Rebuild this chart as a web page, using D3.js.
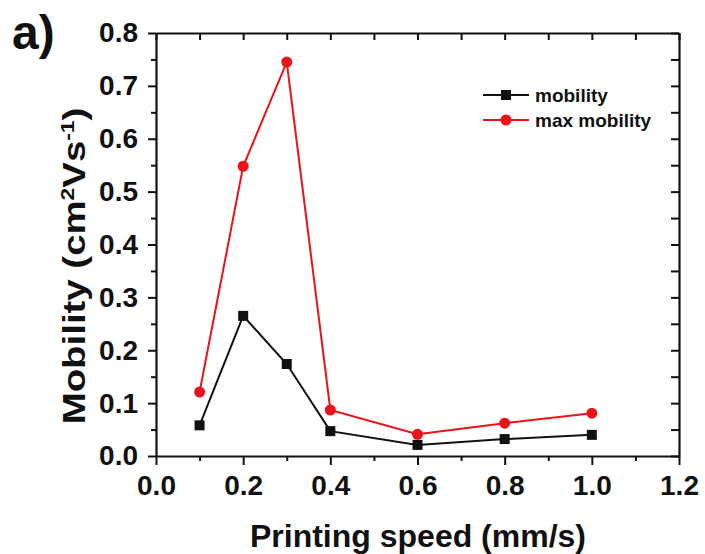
<!DOCTYPE html>
<html>
<head>
<meta charset="utf-8">
<script src="https://cdn.jsdelivr.net/npm/d3@7"></script>
<style>
  html, body { margin: 0; padding: 0; background: #fff; }
  svg text { font-family: "Liberation Sans", Arial, sans-serif; font-weight: bold; fill: #111; }
</style>
</head>
<body>
<svg id="chart" width="705" height="554"></svg>
<script>
// Printing speed (mm/s)
const speeds = [0.1, 0.2, 0.3, 0.4, 0.6, 0.8, 1.0];
// Average mobility (cm^2/Vs)
const mobility = [0.058, 0.265, 0.174, 0.047, 0.021, 0.032, 0.040];
// Maximum mobility (cm^2/Vs)
const maxMobility = [0.121, 0.548, 0.745, 0.087, 0.041, 0.062, 0.081];
const xTicks = [0.0, 0.2, 0.4, 0.6, 0.8, 1.0, 1.2];
const yTicks = [0.0, 0.1, 0.2, 0.3, 0.4, 0.5, 0.6, 0.7, 0.8];

const svg = d3.select("#chart");
const plotL = 156, plotR = 679, plotT = 33, plotB = 456;

const x = d3.scaleLinear().domain([0, 1.2]).range([plotL, plotR]);
const y = d3.scaleLinear().domain([0, 0.8]).range([plotB, plotT]);

const axisColor = "#111";
const fmt = d3.format(".1f");

// Bottom axis: major ticks labelled, minor ticks between
const xMinor = d3.range(0.1, 1.2, 0.2);
svg.append("g").attr("transform", `translate(0,${plotB})`)
  .call(d3.axisBottom(x).tickValues(xTicks).tickFormat(fmt).tickSize(9).tickPadding(10).tickSizeOuter(0));
svg.append("g").attr("transform", `translate(0,${plotB})`)
  .call(d3.axisBottom(x).tickValues(xMinor).tickFormat("").tickSize(5).tickSizeOuter(0))
  .call(g => g.select(".domain").remove());

// Left axis
const yMinor = d3.range(0.05, 0.8, 0.1);
svg.append("g").attr("transform", `translate(${plotL},0)`)
  .call(d3.axisLeft(y).tickValues(yTicks).tickFormat(fmt).tickSize(8).tickPadding(10).tickSizeOuter(0));
svg.append("g").attr("transform", `translate(${plotL},0)`)
  .call(d3.axisLeft(y).tickValues(yMinor).tickFormat("").tickSize(5).tickSizeOuter(0))
  .call(g => g.select(".domain").remove());

// Top axis: inward ticks, no labels
svg.append("g").attr("transform", `translate(0,${plotT})`)
  .call(d3.axisTop(x).tickValues(d3.range(0, 1.21, 0.1)).tickFormat("").tickSize(-7).tickSizeOuter(0));

// Right axis: inward ticks, no labels
svg.append("g").attr("transform", `translate(${plotR},0)`)
  .call(d3.axisRight(y).tickValues(d3.range(0, 0.81, 0.05)).tickFormat("").tickSize(-8).tickSizeOuter(0));

svg.selectAll(".domain").attr("stroke", axisColor).attr("stroke-width", 2.2);
svg.selectAll(".tick line").attr("stroke", axisColor).attr("stroke-width", 2);
svg.selectAll(".tick text").attr("font-size", 28).attr("font-family", "Liberation Sans, Arial, sans-serif")
  .attr("font-weight", "bold").attr("fill", "#111");

// Axis titles
svg.append("text").attr("x", 418).attr("y", 547)
  .attr("text-anchor", "middle").attr("font-size", 32).text("Printing speed (mm/s)");

const yTitle = svg.append("text")
  .attr("transform", `translate(85,266) rotate(-90) scale(1.2,1)`)
  .attr("text-anchor", "middle").attr("font-size", 32);
yTitle.append("tspan").text("Mobility (cm");
yTitle.append("tspan").attr("font-size", 19).attr("dy", -11).text("2");
yTitle.append("tspan").attr("dy", 11).text("Vs");
yTitle.append("tspan").attr("font-size", 19).attr("dy", -11).text("-1");
yTitle.append("tspan").attr("dy", 11).text(")");

// Panel label
svg.append("text").attr("x", 12).attr("y", 49).attr("font-size", 48).text("a)");

// Series
const series = [
  { name: "mobility", values: mobility, color: "#111", shape: "square" },
  { name: "max mobility", values: maxMobility, color: "#e8141a", shape: "circle" }
];

const line = d3.line().x(d => x(d[0])).y(d => y(d[1]));

series.forEach(s => {
  const pts = speeds.map((v, i) => [v, s.values[i]]);
  svg.append("path").datum(pts).attr("d", line)
    .attr("fill", "none").attr("stroke", s.color).attr("stroke-width", 2);
  if (s.shape === "square") {
    svg.selectAll(null).data(pts).enter().append("rect")
      .attr("x", d => x(d[0]) - 5).attr("y", d => y(d[1]) - 5)
      .attr("width", 10).attr("height", 10).attr("fill", s.color);
  } else {
    svg.selectAll(null).data(pts).enter().append("circle")
      .attr("cx", d => x(d[0])).attr("cy", d => y(d[1])).attr("r", 5.5).attr("fill", s.color);
  }
});

// Legend
const legend = svg.append("g").attr("transform", "translate(483,95)");
series.forEach((s, i) => {
  const g = legend.append("g").attr("transform", `translate(0,${i * 25})`);
  g.append("line").attr("x1", 0).attr("x2", 46).attr("y1", 0).attr("y2", 0)
    .attr("stroke", s.color).attr("stroke-width", 2);
  if (s.shape === "square") {
    g.append("rect").attr("x", 18).attr("y", -5).attr("width", 10).attr("height", 10).attr("fill", s.color);
  } else {
    g.append("circle").attr("cx", 23).attr("cy", 0).attr("r", 5.5).attr("fill", s.color);
  }
  g.append("text").attr("x", 52).attr("y", 7).attr("font-size", 19).text(s.name);
});
</script>
</body>
</html>
